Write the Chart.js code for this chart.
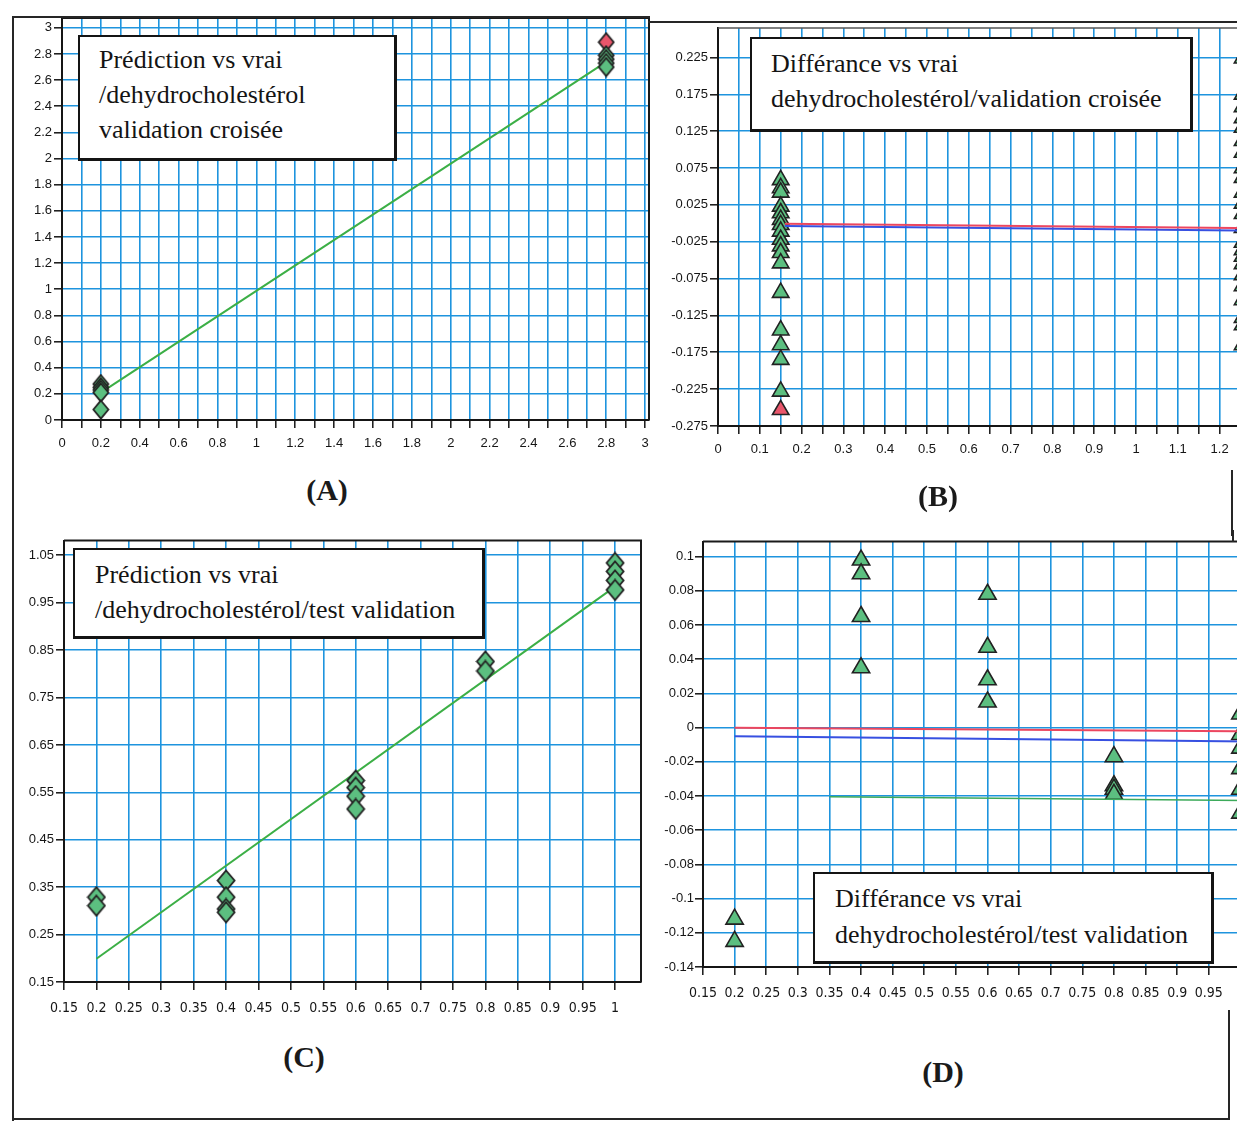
<!DOCTYPE html>
<html><head><meta charset="utf-8">
<script src="https://cdn.jsdelivr.net/npm/chart.js@4.4.1/dist/chart.umd.min.js"></script>
<style>
html,body{margin:0;padding:0;background:#fff;}
body{width:1237px;height:1123px;overflow:hidden;position:relative;}
canvas{position:absolute;}
.box{position:absolute;background:#fff;border:2px solid #141414;border-right-width:3px;border-bottom-width:3px;box-sizing:border-box;
 font-family:'Liberation Serif','Times New Roman',serif;font-size:26px;line-height:35px;color:#141414;white-space:nowrap;}
.lab{position:absolute;font-family:'Liberation Serif','Times New Roman',serif;font-weight:bold;font-size:30px;color:#1a1a1a;transform:translate(-50%,-50%);}
.ln{position:absolute;background:#262626;}
</style></head><body>
<canvas id="cA" width="660" height="470" style="left:0;top:0"></canvas>
<canvas id="cB" width="640" height="480" style="left:650px;top:0"></canvas>
<canvas id="cC" width="660" height="500" style="left:0;top:530px"></canvas>
<canvas id="cD" width="640" height="490" style="left:650px;top:530px"></canvas>

<div class="ln" style="left:14px;top:16px;width:636px;height:2px"></div>
<div class="ln" style="left:648px;top:21px;width:600px;height:2px"></div>
<div class="ln" style="left:12px;top:16px;width:2px;height:1105px"></div>
<div class="ln" style="left:12px;top:1118px;width:1218px;height:2px"></div>
<div class="ln" style="left:1228px;top:1010px;width:2px;height:110px"></div>
<div class="ln" style="left:1231px;top:470px;width:2px;height:66px"></div>
<div class="ln" style="left:1232px;top:530px;width:2px;height:12px"></div>

<div class="box" style="left:78px;top:35px;width:319px;height:126px;padding:5px 0 0 19px">Prédiction vs vrai<br>/dehydrocholestérol<br>validation croisée</div>
<div class="box" style="left:750px;top:37px;width:443px;height:95px;padding:7px 0 0 19px">Différance vs vrai<br>dehydrocholestérol/validation croisée</div>
<div class="box" style="left:73px;top:548px;width:412px;height:91px;padding:7px 0 0 20px">Prédiction vs vrai<br>/dehydrocholestérol/test validation</div>
<div class="box" style="left:813px;top:872px;width:401px;height:92px;padding:7px 0 0 20px;line-height:36px">Différance vs vrai<br>dehydrocholestérol/test validation</div>

<div class="lab" style="left:327px;top:490px">(A)</div>
<div class="lab" style="left:938px;top:496px">(B)</div>
<div class="lab" style="left:304px;top:1057px">(C)</div>
<div class="lab" style="left:943px;top:1072px">(D)</div>

<script>
// ---------------- Panel A : prédiction vs vrai (validation croisée) ----------------
const aTrueGreen = [0.2, 0.2, 0.2, 0.2, 0.2, 2.8, 2.8, 2.8, 2.8];
const aPredGreen = [0.275, 0.25, 0.23, 0.21, 0.08, 2.79, 2.76, 2.73, 2.70];
const aTrueRed = [2.8];
const aPredRed = [2.89];
const aFitX = [0.2, 2.8];
const aFitY = [0.21, 2.74];
const aXLabels = ['0','0.2','0.4','0.6','0.8','1','1.2','1.4','1.6','1.8','2','2.2','2.4','2.6','2.8','3'];
const aYLabels = ['0','0.2','0.4','0.6','0.8','1','1.2','1.4','1.6','1.8','2','2.2','2.4','2.6','2.8','3'];

// ---------------- Panel B : différence vs vrai (validation croisée) ----------------
const bTrueMain = 0.15;
const bDiffGreen = [0.059, 0.048, 0.042, 0.023, 0.014, 0.005, -0.002, -0.011, -0.022, -0.031, -0.040, -0.054, -0.094, -0.145, -0.165, -0.185, -0.228];
const bDiffRed = [-0.253];
const bTrueEdge = 1.255;
const bDiffEdge = [0.224, 0.175, 0.158, 0.143, 0.130, 0.112, 0.096, 0.075, 0.062, 0.042, 0.027, 0.013, -0.006, -0.026, -0.036, -0.045, -0.055, -0.070, -0.085, -0.104, -0.128, -0.138, -0.165];
const bRedLineX = [0.16, 1.3];
const bRedLineY = [-0.0005, -0.0068];
const bBlueLineX = [0.16, 1.3];
const bBlueLineY = [-0.0037, -0.0101];
const bXLabels = ['0','0.1','0.2','0.3','0.4','0.5','0.6','0.7','0.8','0.9','1','1.1','1.2','1.3'];
const bYLabels = ['0.225','0.175','0.125','0.075','0.025','-0.025','-0.075','-0.125','-0.175','-0.225','-0.275'];

// ---------------- Panel C : prédiction vs vrai (test validation) ----------------
const cTrue = [0.2, 0.2, 0.4, 0.4, 0.4, 0.4, 0.6, 0.6, 0.6, 0.6, 0.8, 0.8, 1, 1, 1, 1];
const cPred = [0.329, 0.311, 0.364, 0.329, 0.304, 0.297, 0.575, 0.56, 0.542, 0.515, 0.826, 0.806, 1.034, 1.016, 0.997, 0.977];
const cFitX = [0.2, 1];
const cFitY = [0.199, 0.984];
const cXLabels = ['0.15','0.2','0.25','0.3','0.35','0.4','0.45','0.5','0.55','0.6','0.65','0.7','0.75','0.8','0.85','0.9','0.95','1'];
const cYLabels = ['1.05','0.95','0.85','0.75','0.65','0.55','0.45','0.35','0.25','0.15'];

// ---------------- Panel D : différence vs vrai (test validation) ----------------
const dTrue = [0.2, 0.2, 0.4, 0.4, 0.4, 0.4, 0.6, 0.6, 0.6, 0.6, 0.8, 0.8, 0.8, 0.8];
const dDiff = [-0.112, -0.125, 0.098, 0.090, 0.065, 0.035, 0.078, 0.047, 0.028, 0.015, -0.017, -0.034, -0.036, -0.039];
const dTrueEdge = 1.0;
const dDiffEdge = [0.008, -0.004, -0.012, -0.024, -0.036, -0.05];
const dRedLineX = [0.2, 1.05];
const dRedLineY = [0.0, -0.0022];
const dBlueLineX = [0.2, 1.05];
const dBlueLineY = [-0.005, -0.0082];
const dGreenLineX = [0.35, 1.05];
const dGreenLineY = [-0.0405, -0.0428];
const dXLabels = ['0.15','0.2','0.25','0.3','0.35','0.4','0.45','0.5','0.55','0.6','0.65','0.7','0.75','0.8','0.85','0.9','0.95','1'];
const dYLabels = ['0.1','0.08','0.06','0.04','0.02','0','-0.02','-0.04','-0.06','-0.08','-0.1','-0.12','-0.14'];

// ---------------- styles ----------------
const GRID = 'rgb(30,148,222)';
const INK = '#151515';
const GREEN = '#5cbf80';
const RED = '#e9566b';
const SANS = "'Liberation Sans', Arial, sans-serif";
const NARROW = "'Liberation Sans Narrow', 'DejaVu Sans Condensed', 'Liberation Sans', sans-serif";

function steps(a, b, s) {
  const out = [];
  for (let i = 0; ; i++) {
    const v = Math.round((a + i * s) * 1e6) / 1e6;
    if (v > b + 1e-9) break;
    out.push(v);
  }
  return out;
}
function pts(xs, ys) { return ys.map((y, i) => ({ x: Array.isArray(xs) ? xs[i] : xs, y })); }
function labelFor(labels, v) {
  const s = labels.find(l => Math.abs(parseFloat(l) - v) < 1e-6);
  return s === undefined ? '' : s;
}
function diamond(w, h, fill) {
  const c = document.createElement('canvas');
  c.width = w + 3; c.height = h + 3;
  const g = c.getContext('2d');
  const cx = c.width / 2, cy = c.height / 2;
  g.beginPath();
  g.moveTo(cx, 1.5); g.lineTo(c.width - 1.5, cy); g.lineTo(cx, c.height - 1.5); g.lineTo(1.5, cy); g.closePath();
  g.fillStyle = fill; g.fill();
  g.lineWidth = 1.8; g.strokeStyle = '#222'; g.stroke();
  return c;
}
function axis(a, dir) {
  return {
    type: 'linear', min: a.min, max: a.max,
    afterBuildTicks: s => { s.ticks = a.grid.map(v => ({ value: v })); },
    afterFit: s => { if (dir === 'x') s.height = a.size; else s.width = a.size; },
    ticks: { autoSkip: false, maxRotation: 0, minRotation: 0, padding: a.pad, color: INK,
             font: a.font, callback: v => labelFor(a.labels, v) },
    grid: { color: GRID, lineWidth: 1.6, tickLength: 8, tickColor: INK, tickWidth: 1.5 },
    border: { color: '#151515', width: 2 }
  };
}
function frame(color, width) {
  return { id: 'frame', afterDatasetsDraw(chart) {
    const { ctx, chartArea: ca } = chart;
    ctx.save(); ctx.strokeStyle = color; ctx.lineWidth = width;
    ctx.beginPath(); ctx.moveTo(ca.left, ca.top); ctx.lineTo(ca.right, ca.top); ctx.lineTo(ca.right, ca.bottom); ctx.stroke();
    ctx.restore();
  } };
}
function scatter(data, style) {
  return Object.assign({ data, showLine: false, pointBorderColor: '#222', pointBorderWidth: 1.6 }, style);
}
function line(xs, ys, color, w) {
  return { data: pts(xs, ys), showLine: true, borderColor: color, borderWidth: w, pointRadius: 0, fill: false };
}
function make(id, padding, xa, ya, datasets, fr) {
  new Chart(document.getElementById(id), {
    type: 'scatter',
    data: { datasets },
    options: {
      responsive: false, animation: false, events: [],
      layout: { padding },
      plugins: { legend: { display: false }, tooltip: { enabled: false } },
      scales: { x: axis(xa, 'x'), y: axis(ya, 'y') }
    },
    plugins: [fr]
  });
}

// Panel A
const dA = diamond(15, 18, GREEN), dAr = diamond(15, 18, RED);
make('cA', { top: 18, right: 11, bottom: 0, left: 0 },
  { min: 0, max: 3.02, grid: steps(0, 3, 0.1), labels: aXLabels, size: 50, pad: 8, font: { family: SANS, size: 13 } },
  { min: 0, max: 3.075, grid: steps(0, 3, 0.2), labels: aYLabels, size: 62, pad: 2, font: { family: SANS, size: 13 } },
  [
    scatter(pts(aTrueGreen, aPredGreen), { pointStyle: dA, pointRadius: 8 }),
    scatter(pts(aTrueRed, aPredRed), { pointStyle: dAr, pointRadius: 8 }),
    line(aFitX, aFitY, 'rgb(60,175,70)', 2)
  ], frame('#1a1a1a', 2));

// Panel B
make('cB', { top: 28, right: 28.6, bottom: 0, left: 0 },
  { min: 0, max: 1.3, grid: steps(0, 1.3, 0.05), labels: bXLabels, size: 54, pad: 8, font: { family: SANS, size: 13 } },
  { min: -0.275, max: 0.265, grid: steps(-0.275, 0.225, 0.05), labels: bYLabels, size: 68, pad: 2, font: { family: SANS, size: 13 } },
  [
    line(bRedLineX, bRedLineY, 'rgb(236,70,95)', 2),
    line(bBlueLineX, bBlueLineY, 'rgb(55,80,225)', 2),
    scatter(pts(bTrueMain, bDiffGreen), { pointStyle: 'triangle', pointRadius: 9.5, pointBackgroundColor: GREEN }),
    scatter(pts(bTrueMain, bDiffRed), { pointStyle: 'triangle', pointRadius: 9.5, pointBackgroundColor: RED }),
    scatter(pts(bTrueEdge, bDiffEdge), { pointStyle: 'triangle', pointRadius: 9.5, pointBackgroundColor: GREEN })
  ], frame('#555', 1.5));

// Panel C
const dC = diamond(17, 20, GREEN);
make('cC', { top: 8, right: 19, bottom: 0, left: 0 },
  { min: 0.15, max: 1.04, grid: steps(0.15, 1.0, 0.05), labels: cXLabels, size: 48, pad: 10, font: { family: NARROW, size: 14 } },
  { min: 0.15, max: 1.081, grid: steps(0.15, 1.05, 0.1), labels: cYLabels, size: 64, pad: 2, font: { family: SANS, size: 13 } },
  [
    scatter(pts(cTrue, cPred), { pointStyle: dC, pointRadius: 9 }),
    line(cFitX, cFitY, 'rgb(60,175,70)', 2)
  ], frame('#1a1a1a', 2));

// Panel D
make('cD', { top: 11, right: 18, bottom: 0, left: 0 },
  { min: 0.15, max: 1.05, grid: steps(0.15, 1.05, 0.05), labels: dXLabels, size: 53, pad: 10, font: { family: NARROW, size: 14 } },
  { min: -0.14, max: 0.1088, grid: steps(-0.14, 0.1, 0.02), labels: dYLabels, size: 53, pad: 1, font: { family: SANS, size: 13 } },
  [
    line(dRedLineX, dRedLineY, 'rgb(236,70,95)', 2),
    line(dBlueLineX, dBlueLineY, 'rgb(55,80,225)', 2),
    line(dGreenLineX, dGreenLineY, 'rgb(60,170,90)', 1.5),
    scatter(pts(dTrue, dDiff), { pointStyle: 'triangle', pointRadius: 10, pointBackgroundColor: GREEN }),
    scatter(pts(dTrueEdge, dDiffEdge), { pointStyle: 'triangle', pointRadius: 10, pointBackgroundColor: GREEN })
  ], frame('#1a1a1a', 2));
</script>
</body></html>
